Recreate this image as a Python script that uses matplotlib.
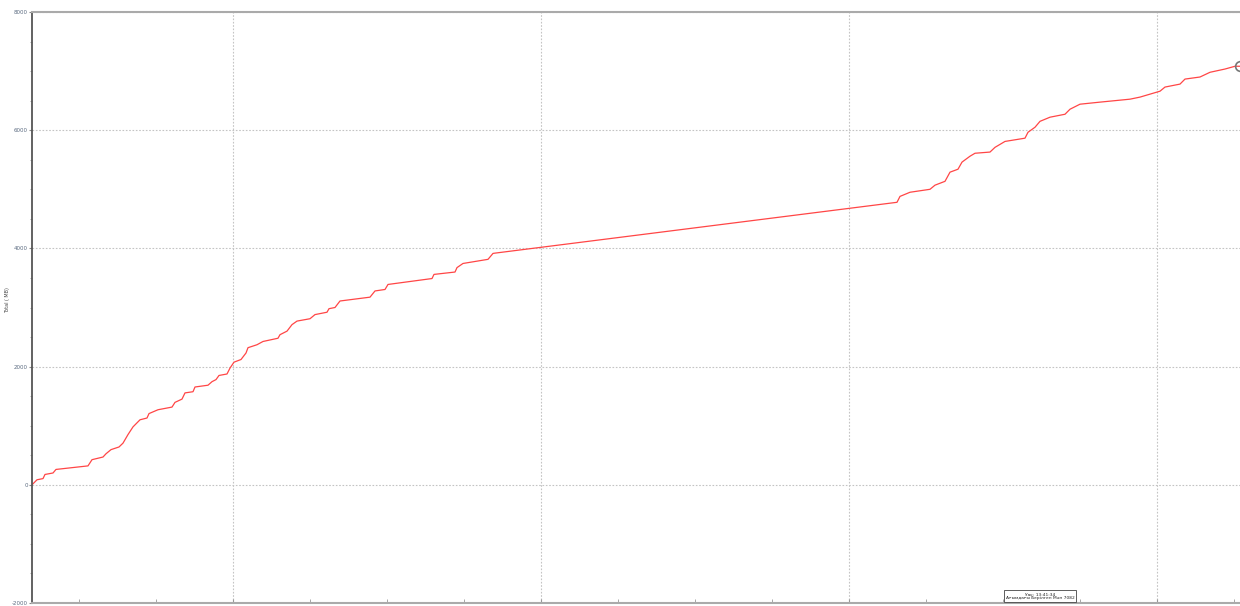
import matplotlib
matplotlib.use("Agg")
import matplotlib.pyplot as plt
from matplotlib.ticker import MultipleLocator, NullFormatter

# time since start (arbitrary units) and total transferred value
t = [0, 5, 11, 13, 21, 24, 56, 60, 71, 74, 79, 87, 91, 96, 101, 108, 115, 117,
     126, 140, 143, 150, 153, 161, 163, 176, 180, 184, 187, 195, 198, 202, 209,
     214, 216, 225, 231, 246, 248, 255, 260, 265, 278, 283, 295, 297, 303, 308,
     338, 343, 353, 356, 400, 402, 423, 425, 431, 456, 461, 463,
     865, 868, 878, 898, 903, 913, 918, 926, 930, 938, 943, 958, 963, 973, 993,
     996, 1003, 1008, 1018, 1033, 1038, 1048, 1068, 1098, 1108, 1128, 1133,
     1148, 1153, 1168, 1178, 1193, 1203, 1208]
total = [0, 85, 105, 175, 200, 260, 320, 425, 470, 525, 595, 640, 705, 850, 980,
         1100, 1130, 1205, 1270, 1315, 1395, 1450, 1555, 1575, 1655, 1685, 1745,
         1780, 1850, 1875, 1975, 2075, 2120, 2230, 2320, 2370, 2425, 2480, 2540,
         2600, 2710, 2770, 2810, 2880, 2920, 2980, 3000, 3110, 3175, 3280, 3305,
         3390, 3490, 3560, 3600, 3675, 3745, 3815, 3915, 3920,
         4780, 4880, 4950, 5000, 5070, 5135, 5290, 5340, 5460, 5560, 5610, 5630,
         5710, 5810, 5865, 5965, 6050, 6150, 6220, 6270, 6355, 6440, 6475, 6525,
         6560, 6660, 6730, 6780, 6865, 6900, 6980, 7035, 7082, 7082]

y_ticks = [-2000, 0, 2000, 4000, 6000, 8000]
tooltip_time = "Уақ: 13:41:34"
tooltip_value = "Ағымдағы Берілген Мән 7082"

plt.rcParams["axes.unicode_minus"] = False

fig = plt.figure(figsize=(12.4, 6.06), dpi=100)
ax = fig.add_axes([32 / 1240, 3 / 606, 1208 / 1240, 591 / 606])

ax.plot(t, total, color="#ff4646", lw=0.9)
ax.plot(t[-1], total[-1], "o", ms=7, mfc="none", mec="#777777", mew=1.2)

ax.set_xlim(0, 1208)
ax.set_ylim(-2000, 8000)
ax.set_yticks(y_ticks)
ax.yaxis.set_minor_locator(MultipleLocator(500))
ax.xaxis.set_major_locator(MultipleLocator(308, offset=201))
ax.xaxis.set_minor_locator(MultipleLocator(77, offset=47))
ax.xaxis.set_major_formatter(NullFormatter())

ax.grid(True, which="major", color="#c4c4c4", linestyle=(0, (1.5, 1.5)), lw=0.8)
ax.tick_params(axis="y", which="major", labelsize=4, labelcolor="#5a6a80",
               length=2, color="#888888", pad=1)
ax.tick_params(axis="y", which="minor", length=1.5, color="#999999")
ax.tick_params(axis="x", which="both", direction="in", length=3, color="#999999")

ax.spines["right"].set_visible(False)
ax.spines["left"].set_color("#555555")
ax.spines["left"].set_linewidth(1.3)
ax.spines["top"].set_color("#aaaaaa")
ax.spines["top"].set_linewidth(1.5)
ax.spines["bottom"].set_color("#aaaaaa")
ax.spines["bottom"].set_linewidth(1.5)

fig.text(8 / 1240, 1 - 300 / 606, "Total ( MB)", rotation=90, fontsize=3.5,
         color="#444444", ha="center", va="center")

fig.text(1040 / 1240, 1 - 596 / 606, tooltip_time + "\n" + tooltip_value,
         fontsize=3.2, ha="center", va="center", multialignment="center",
         color="#222222",
         bbox=dict(boxstyle="square,pad=0.4", fc="white", ec="#444444", lw=0.6))

fig.savefig("out.png", dpi=100, facecolor="white")
